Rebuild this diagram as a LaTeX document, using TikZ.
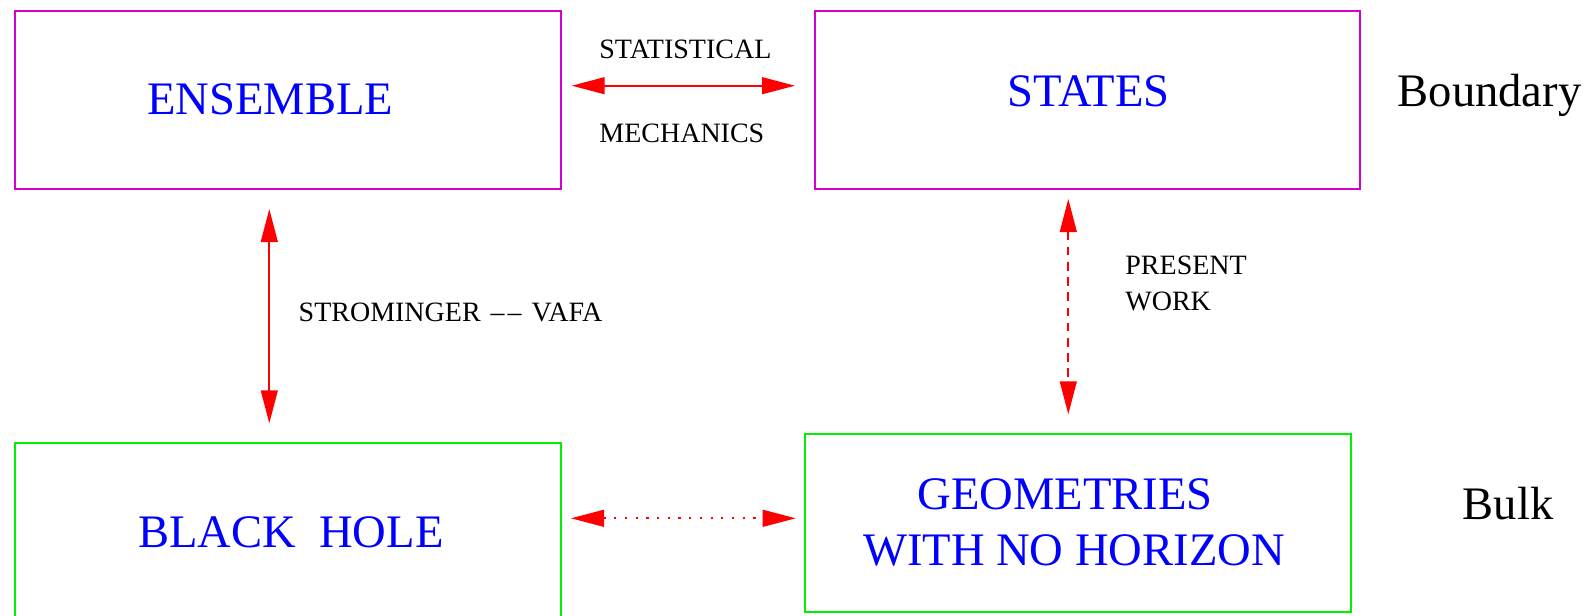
\documentclass[tikz,border=0pt]{standalone}
\usepackage{fontspec}
\setmainfont{Liberation Serif}
\usetikzlibrary{arrows.meta}
\definecolor{boxmag}{RGB}{210,0,210}
\definecolor{boxgreen}{RGB}{0,240,0}
\tikzset{
  magbox/.style={draw=boxmag, line width=1pt, rectangle, inner sep=0pt},
  greenbox/.style={draw=boxgreen, line width=1pt, rectangle, inner sep=0pt},
  bigtext/.style={text=blue, font=\fontsize{23.3pt}{28pt}\selectfont, inner sep=0pt, anchor=base},
  sidetext/.style={text=black, font=\fontsize{23.3pt}{28pt}\selectfont, inner sep=0pt, anchor=base},
  smalltext/.style={text=black, font=\fontsize{14pt}{18pt}\selectfont, inner sep=0pt, anchor=base west},
  biarrow/.style={draw=red, line width=0.9pt, {Triangle[length=16.5pt,width=8.4pt]}-{Triangle[length=16.5pt,width=8.4pt]}},
}
\begin{document}
\begin{tikzpicture}[x=0.5pt,y=-0.5pt]
\useasboundingbox (0,0) rectangle (1591,616);
% boxes
\node[magbox, minimum width=545.5pt/2, minimum height=178pt/2] (ens) at ({(15.3+560.8)/2},{(11+189)/2}) {};
\node[magbox, minimum width=545.6pt/2, minimum height=178pt/2] (sta) at ({(814.7+1360.3)/2},{(11+189)/2}) {};
\node[greenbox, minimum width=545.5pt/2, minimum height=174pt/2] (bh) at ({(15.3+560.8)/2},{(443.4+617.4)/2}) {};
\node[greenbox, minimum width=545.7pt/2, minimum height=178pt/2] (geo) at ({(805+1350.7)/2},{(434+612)/2}) {};
% box texts
\node[bigtext] (ensT) at (270.4,114) {ENSEMBLE};
\node[bigtext] (staT) at (1088.7,106.8) {STATES};
\node[bigtext] (bhT) at (290.8,547.5) {BLACK\ \ HOLE};
\node[bigtext] (geoT1) at (1065,509.5) {GEOMETRIES};
\node[bigtext] (geoT2) at (1074,565.5) {WITH NO HORIZON};
% side labels
\node[sidetext] (bnd) at (1489.5,106.5) {Boundary};
\node[sidetext] (blk) at (1508,519.5) {Bulk};
% connector labels
\node[smalltext] (stat) at (599,58) {STATISTICAL};
\node[smalltext] (mech) at (599,142) {MECHANICS};
\node[smalltext] (sv) at (298.3,321.4) {STROMINGER\kern5pt{\textendash}\kern1.5pt{\textendash}\kern5pt VAFA};
\node[smalltext] (pres) at (1125,274.4) {PRESENT};
\node[smalltext] (work) at (1125,310.2) {WORK};
% arrow end points
\coordinate (h1a) at (571.7,85.7);
\coordinate (h1b) at (795,85.7);
\coordinate (v1a) at (269.3,209);
\coordinate (v1b) at (269.3,423.3);
\coordinate (v2a) at (1068.3,199);
\coordinate (v2b) at (1068.3,414.3);
\coordinate (h2a) at (571,518.3);
\coordinate (h2b) at (795.7,518.3);
% connectors
\draw[biarrow] (h1a) -- (h1b);
\draw[biarrow] (v1a) -- (v1b);
\draw[biarrow, dash pattern=on 4.3pt off 3.3pt] (v2a) -- (v2b);
\draw[biarrow, dash pattern=on 1.1pt off 4.25pt] (h2a) -- (h2b);
\end{tikzpicture}
\end{document}
